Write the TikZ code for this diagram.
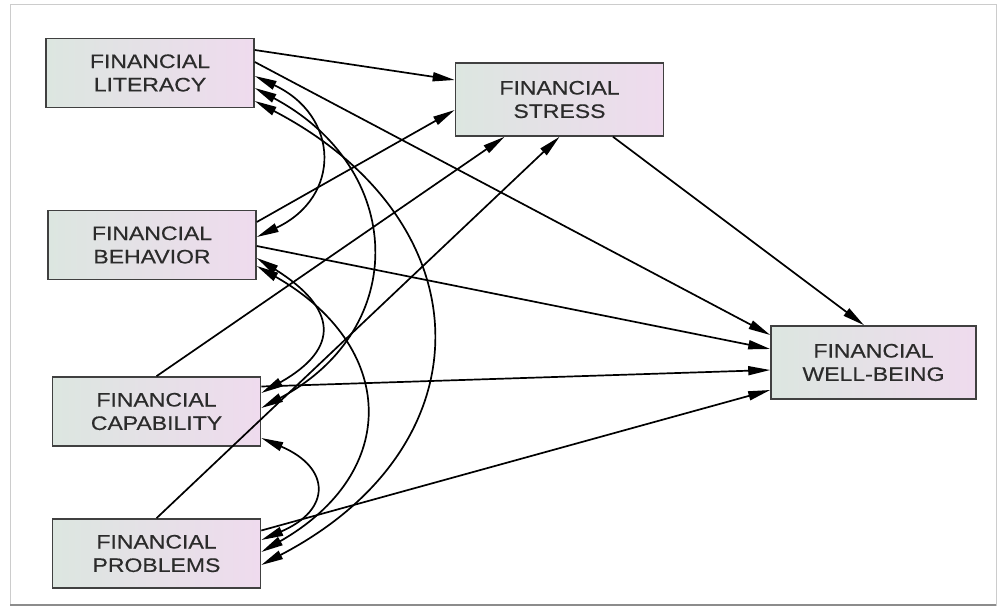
\documentclass[tikz,border=0pt]{standalone}
\usepackage{fontspec}
\newfontfamily\boxfont[FakeStretch=1.18,FakeBold=0.4]{Liberation Sans}
\usetikzlibrary{arrows.meta,calc}

\definecolor{boxleft}{HTML}{DCE6E0}
\definecolor{boxright}{HTML}{EFDBEE}
\definecolor{boxtext}{HTML}{2B2B2B}

\tikzset{
  varbox/.style={rectangle, draw=black!75, line width=1.6pt,
    left color=boxleft, right color=boxright,
    minimum width=208pt, minimum height=69pt, inner sep=0pt,
    align=center, text=boxtext,
    font=\boxfont\fontsize{19.5}{23.4}\selectfont},
  effect/.style={-{Triangle[length=22pt,width=9pt]}, line width=1.7pt},
  covar/.style={{Triangle[length=22pt,width=9pt]}-{Triangle[length=22pt,width=9pt]}, line width=1.7pt}
}

\begin{document}
\begin{tikzpicture}[x=1pt,y=-1pt]
        \useasboundingbox (0,0) rectangle (998,610);

        %% Frame round the figure
        \draw [black!20, line width=1pt] (10,5) rectangle (996,605);
        \draw [black!45, line width=2.5pt] (10,605) -- (996,605);

        %% Variables
        \node [varbox] (lit) at (150,73) {FINANCIAL\\LITERACY};
        \node [varbox] (beh) at (152,245) {FINANCIAL\\BEHAVIOR};
        \node [varbox] (cap) at (156.5,411.5) {FINANCIAL\\CAPABILITY};
        \node [varbox] (prob) at (156.5,553.5) {FINANCIAL\\PROBLEMS};
        \node [varbox, minimum height=73pt] (stress) at (559.5,99.5) {FINANCIAL\\STRESS};
        \node [varbox, minimum width=205pt, minimum height=73pt] (wb) at (873.5,362.5) {FINANCIAL\\WELL-BEING};

        %% Effects on stress
        \draw [effect] ($(lit.east)+(0,-23)$) -- ($(stress.west)+(0,-19.5)$);
        \draw [effect] ($(beh.east)+(0,-23)$) -- ($(stress.west)+(0,10.5)$);
        \draw [effect] (cap.north) -- ($(stress.south)+(-55,0)$);
        \draw [effect] (prob.north) -- (stress.south);

        %% Effects on well-being
        \draw [effect] ($(lit.east)+(0,-11)$) -- ($(wb.west)+(0,-27.5)$);
        \draw [effect] ($(beh.east)+(0,1)$) -- ($(wb.west)+(0,-13.5)$);
        \draw [effect] ($(cap.east)+(0,-25)$) -- ($(wb.west)+(0,7.5)$);
        \draw [effect] ($(prob.east)+(0,-23)$) -- ($(wb.west)+(0,27.5)$);
        \draw [effect] ($(stress.south)+(53.5,0)$) -- ($(wb.north)+(-9.5,0)$);

        %% Covariances
        \draw [covar] ($(lit.east)+(0,3)$) .. controls +(85,40) and +(85,-40) .. ($(beh.east)+(0,-8)$);
        \draw [covar] ($(lit.east)+(0,15)$) .. controls +(150,80) and +(150,-80) .. ($(cap.east)+(0,-3.5)$);
        \draw [covar] ($(lit.east)+(0,28)$) .. controls +(230,120) and +(230,-120) .. ($(prob.east)+(0,11.5)$);
        \draw [covar] ($(beh.east)+(0,13)$) .. controls +(80,50) and +(80,-45) .. ($(cap.east)+(0,-18.5)$);
        \draw [covar] ($(beh.east)+(0,21)$) .. controls +(140,80) and +(140,-80) .. ($(prob.east)+(0,-1.5)$);
        \draw [covar] ($(cap.east)+(0,26.5)$) .. controls +(70,30) and +(70,-30) .. ($(prob.east)+(0,-13.5)$);
    \end{tikzpicture}
\end{document}
